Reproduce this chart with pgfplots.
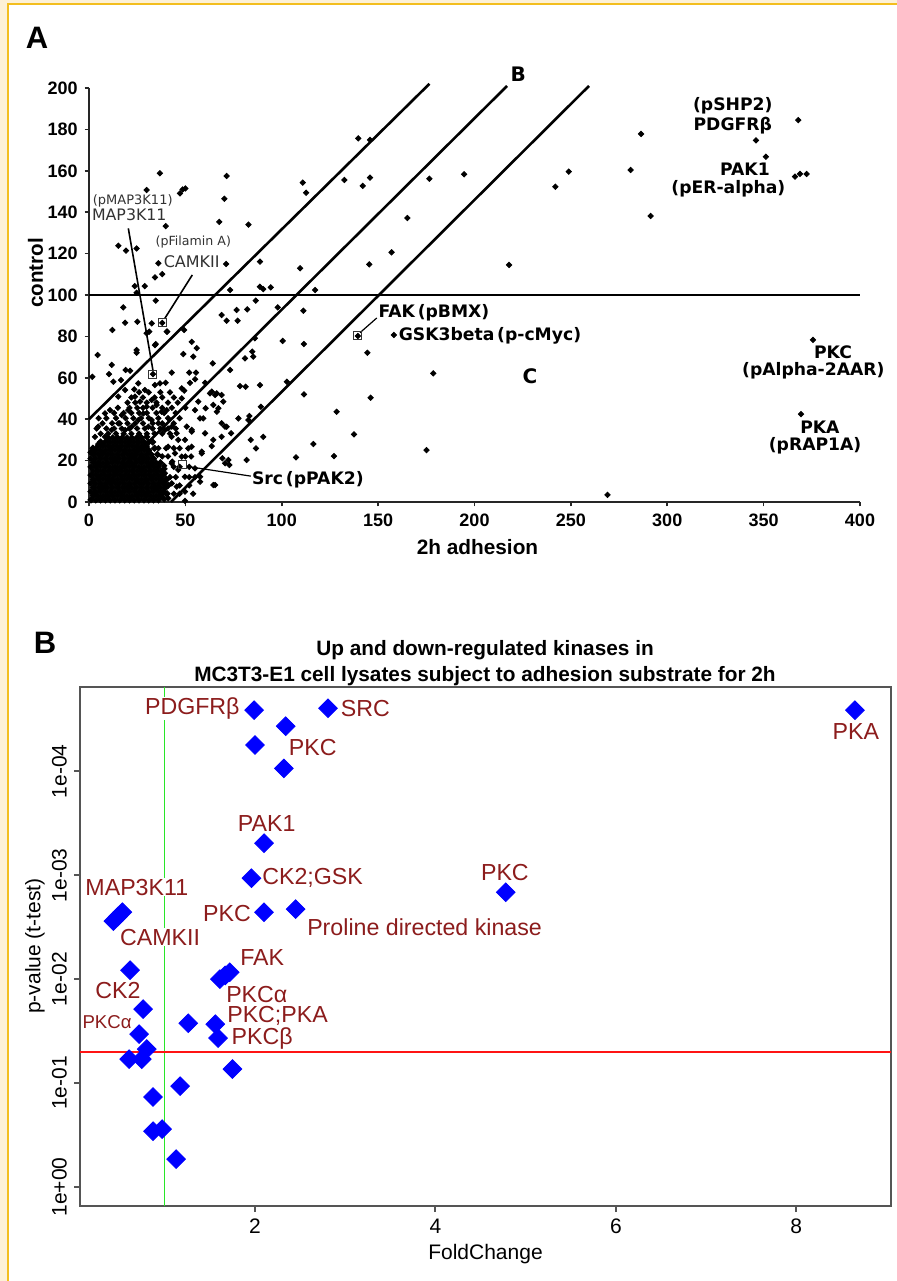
\documentclass[border=0pt]{standalone}
\usepackage{pgfplots}
\pgfplotsset{compat=1.18}
\usepackage{fontspec}
\setmainfont{Liberation Sans}
\newfontfamily\dejavu{DejaVu Sans}
\definecolor{cream}{RGB}{253,241,214}
\definecolor{gold}{RGB}{243,190,30}
\definecolor{lbl}{RGB}{140,28,28}
\definecolor{framegray}{RGB}{85,85,85}
\definecolor{lgreen}{RGB}{40,230,40}
\definecolor{lred}{RGB}{255,20,20}
\definecolor{annogray}{RGB}{50,50,50}

\begin{document}
\begin{tikzpicture}
\path[use as bounding box] (0,0) rectangle (448.5pt,-640.5pt);
\fill[cream] (0,0) rectangle (3.5pt,-640.5pt);
\fill[cream] (0,0) rectangle (448.5pt,-1.5pt);
\fill[gold] (3.5pt,-1.5pt) rectangle (4.6pt,-640.5pt);
\fill[gold] (3.5pt,-1.5pt) rectangle (448.5pt,-2.6pt);

\node[font=\bfseries\fontsize{15.5}{15.5}\selectfont] at (18.5pt,-18.8pt) {A};
\node[font=\bfseries\fontsize{15.5}{15.5}\selectfont] at (22.5pt,-321.5pt) {B};

% ---------------- panel A ----------------
\begin{axis}[
    at={(44.5pt,-251pt)}, anchor=south west,
    scale only axis, width=385.5pt, height=207pt,
    xmin=0, xmax=400, ymin=0, ymax=200,
    axis lines*=left,
    axis line style={line width=0.9pt, black!85},
    xtick={0,50,...,400}, ytick={0,20,...,200},
    tick align=outside, major tick length=2.2pt,
    every tick/.style={line width=0.8pt, black!85},
    /pgf/number format/assume math mode=true,
    ticklabel style={font=\bfseries\fontsize{9}{9}\selectfont},
    clip=false,
]
% dense cluster near the origin
\addplot[only marks, mark=square*, mark size=1.1pt, mark options={rotate=45, black}] coordinates {
(1,1)(3.5,1)(6,1)(8.5,1)(11,1)(13.5,1)(16,1)(18.5,1)(21,1)(23.5,1)(26,1)(28.5,1)(31,1)(33.5,1)(36,1)
(2.25,3)(4.75,3)(7.25,3)(9.75,3)(12.25,3)(14.75,3)(17.25,3)(19.75,3)(22.25,3)(24.75,3)(27.25,3)(29.75,3)(32.25,3)(34.75,3)(37.25,3)
(1,5)(3.5,5)(6,5)(8.5,5)(11,5)(13.5,5)(16,5)(18.5,5)(21,5)(23.5,5)(26,5)(28.5,5)(31,5)(33.5,5)(36,5)(38.5,5)
(2.25,7)(4.75,7)(7.25,7)(9.75,7)(12.25,7)(14.75,7)(17.25,7)(19.75,7)(22.25,7)(24.75,7)(27.25,7)(29.75,7)(32.25,7)(34.75,7)(37.25,7)(39.75,7)
(1,9)(3.5,9)(6,9)(8.5,9)(11,9)(13.5,9)(16,9)(18.5,9)(21,9)(23.5,9)(26,9)(28.5,9)(31,9)(33.5,9)(36,9)(38.5,9)
(2.25,11)(4.75,11)(7.25,11)(9.75,11)(12.25,11)(14.75,11)(17.25,11)(19.75,11)(22.25,11)(24.75,11)(27.25,11)(29.75,11)(32.25,11)(34.75,11)(37.25,11)
(1,13)(3.5,13)(6,13)(8.5,13)(11,13)(13.5,13)(16,13)(18.5,13)(21,13)(23.5,13)(26,13)(28.5,13)(31,13)(33.5,13)(36,13)
(2.25,15)(4.75,15)(7.25,15)(9.75,15)(12.25,15)(14.75,15)(17.25,15)(19.75,15)(22.25,15)(24.75,15)(27.25,15)(29.75,15)(32.25,15)(34.75,15)(37.25,15)
(1,17)(3.5,17)(6,17)(8.5,17)(11,17)(13.5,17)(16,17)(18.5,17)(21,17)(23.5,17)(26,17)(28.5,17)(31,17)(33.5,17)(36,17)
(2.25,19)(4.75,19)(7.25,19)(9.75,19)(12.25,19)(14.75,19)(17.25,19)(19.75,19)(22.25,19)(24.75,19)(27.25,19)(29.75,19)(32.25,19)(34.75,19)
(1,21)(3.5,21)(6,21)(8.5,21)(11,21)(13.5,21)(16,21)(18.5,21)(21,21)(23.5,21)(26,21)(28.5,21)(31,21)(33.5,21)
(2.25,23)(4.75,23)(7.25,23)(9.75,23)(12.25,23)(14.75,23)(17.25,23)(19.75,23)(22.25,23)(24.75,23)(27.25,23)(29.75,23)(32.25,23)
(3.5,25)(6,25)(8.5,25)(11,25)(13.5,25)(16,25)(18.5,25)(21,25)(23.5,25)(26,25)(28.5,25)(31,25)
(4.75,27)(7.25,27)(9.75,27)(12.25,27)(14.75,27)(17.25,27)(19.75,27)(22.25,27)(24.75,27)(27.25,27)(29.75,27)
(6,29)(8.5,29)(11,29)(13.5,29)(16,29)(18.5,29)(21,29)(23.5,29)(26,29)(28.5,29)(31,29)
(9.75,31)(12.25,31)(14.75,31)(17.25,31)(19.75,31)(22.25,31)(24.75,31)(27.25,31)
(38.5,13)(40,11)(39,16)(37,19)(35.5,23)(34,26)(33,29)(30,31.5)(5,28)(2,26)(1,24)(40.5,4)(41,8)(39,1.5)
};
% looser halo around the cluster
\addplot[only marks, mark=square*, mark size=0.95pt, mark options={rotate=45, black}] coordinates {
(6,33)(10,33)(14,33)(18,33)(22,33)(26,33)(30,33)(34,33)(38,33)(42,33)
(4,35.5)(9,35.5)(13,35.5)(17,35.5)(21,35.5)(25,35.5)(29,35.5)(33,35.5)(37,35.5)(41,35.5)(45,35.5)
(7,38)(12,38)(16,38)(20,38)(24,38)(28,38)(33,38)(38,38)(44,38)
(5,40.5)(9,40.5)(14,40.5)(19,40.5)(23,40.5)(27,40.5)(31,40.5)(36,40.5)(41,40.5)(47,40.5)
(13,43)(18,43)(22,43)(26,43)(30,43)(35,43)(39,43)(45,43)
(15,45.5)(21,45.5)(25,45.5)(28,45.5)(33,45.5)(38,45.5)(43,45.5)(50,45.5)
(20,48)(24,48)(30,48)(35,48)(41,48)(46,48)
(22,50.5)(28,50.5)(34,50.5)(38,50.5)(44,50.5)
(26,53)(31,53)(37,53)(42,53)
(36,26)(40,26)(44,26)(47,26)(38,22)(41,22)(50,22)(53,22)(39,17.5)(44,17)(47,17)(52,17)
(42,12)(45,12)(52,12)(55,12)(41,8)(47,8)(52,8)(40,4)(44,4)(47,4)(54,4)
};
% scattered kinases
\addplot[only marks, mark=square*, mark size=0.95pt, mark options={rotate=45, black}] coordinates {
(15.2,123.8)(19.2,121.4)(24.7,122.5)(29.9,150.7)(36.8,158.8)(47.2,149.1)(48.6,151)(50,151.5)
(39.8,133.3)(36,115.3)(38,110.1)(34.2,108.5)(23.7,104.3)(28.9,104.3)(67.6,135.3)(70.2,146.5)
(71.4,157.5)(71.1,115)(82.7,134)(88.7,116.1)(88.7,104)(90.4,102.8)(94.3,103.7)(73.2,102.4)
(110.9,154.3)(112.6,149.4)(109.5,112.9)(117.3,102.4)(139.7,175.7)(145.8,174.9)(132.5,155.6)
(142,152.7)(145.8,156.7)(157,120.6)(145.4,114.8)(165.2,137.2)(176.6,156.2)
(194.6,158.3)(241.9,152.3)(248.9,159.6)(217.9,114.5)(281,160.4)(286.4,177.8)(291.4,138.2)
(346,174.7)(351.2,166.8)(368,184.5)(366.3,157.2)(368.9,158.5)(372.3,158.5)
(24.7,101.1)(86.5,97.3)(17.8,94)(34.6,97.3)(68.8,90.3)(71.4,87.6)(76.6,92.8)(77.1,87.6)
(82.1,93.1)(97.9,94)(111.2,92.4)(18.7,86.6)(25.1,87.1)(12.1,83.1)(31.3,82.3)(40.6,82.3)(49.3,83.1)
(4.5,71)(24.7,72.1)(34.6,76.3)(48.9,71.5)(53.3,77.4)(54.1,70.2)(64.2,67)(1.7,60.5)(11.8,66.2)
(10.4,61.8)(12.6,58.1)(19,63.8)(21.3,63.4)(16.6,58.9)(25.6,57.3)(23.5,54.4)(29,54.1)(34.2,56.5)
(36.8,57.3)(39.8,57.6)(42.9,62.5)(52,62.5)(55.5,62.5)(48.1,54.9)(49.4,53.8)(52.4,57.6)(55,59.3)
(60.2,57.6)(62.8,52.5)(66.3,52.5)(68.8,51.7)(48.1,50.1)(56.7,48.5)(64.5,46.9)(67.1,45.3)
(73.2,63.8)(55,44.4)(59.3,40.4)(57.6,40.4)(68.8,38)(70.6,36.4)(60.2,33.2)(68.8,31.5)(50.7,36.4)
(53.3,34.8)(45.5,33.2)(49.8,30)(51.5,25.9)(53.3,26.7)(58.5,24.3)(69.2,21.1)(70.6,18.7)(43.2,19.5)
(55,16.3)(57.6,12.2)(64.5,8.2)(45.5,7.4)(49.8,5)(40.3,10.6)(36,7.4)
(55.9,74.3)(84.7,72.6)(85.2,70.2)(80.9,69.4)(86.1,79.1)(100.5,77.8)(111.5,76.3)(102.6,58.1)
(111.5,52)(88.7,56.5)(78.3,56)(81.3,55.7)(63.7,53.3)(65.4,51.7)(69.7,48.5)(60.5,45.3)(53.3,34)
(66.3,43.6)(71.4,36.4)(73.7,33.2)(77.5,40.4)(82.7,39.6)(83.2,41.5)(89.2,46)(90.4,31.5)(83.9,30)
(86.6,25.9)(81.8,20.3)(72.3,20.3)(72.8,17.9)(63.7,27)(64.5,30)(58.5,23.5)
(144.4,72.1)(178.6,62.2)(146.1,50.4)(128.5,43.6)(137.5,32.7)(116.4,28)(107.4,21.6)(127.1,22.2)
(175.1,25.1)(158.2,80.7)(57.6,9.8)(65.4,8.2)(49.8,0.5)(269,3.4)(375.6,78.3)(369.4,42.5)
(23.9,50.9)(26.5,48.5)(29.9,46)(32.5,49.3)(35.1,46.9)(37.7,43.6)(40.3,44.4)(28.2,42.8)(25.6,39.6)
(32.5,39.6)(36,38)(39.4,34.8)(42.9,36.4)(22.2,36.4)(18.7,34.8)(15.2,38)(11.8,34.8)(8.3,31.5)
(42.9,31.5)(46.3,30)(41.1,26.7)(44.6,23.5)(48.1,21.9)(8.3,42.8)(4.8,36.4)(15.2,50.9)(18.7,54.1)
(10.9,44.4)(3.1,31.5)(20.4,44.4)(17,42)(30.8,36.4)(42.9,18.7)(46.3,15.5)(39.4,13.9)(49.8,12.2)
(42.9,9)(37.7,4.2)(41.1,1.8)(32.5,86.3)(29.9,81.5)(34.2,75.8)(24.7,73.4)(40.3,82.3)
(38,86.5)(33.2,61.8)(139.5,80.2)
};
% highlighted kinases (open squares)
\addplot[only marks, mark=square, mark size=2pt, mark options={black!80, line width=0.5pt}] coordinates {
(38,86.5)(33.2,61.8)(139.5,80.2)(48.6,17.9)
};
% reference lines
\draw[line width=1.3pt] (axis cs:0,100) -- (axis cs:400,100);
\draw[line width=1.3pt] (axis cs:0,40) -- (axis cs:176.6,202);
\draw[line width=1.3pt] (axis cs:0,0.5) -- (axis cs:216.9,201);
\draw[line width=1.3pt] (axis cs:42.5,0) -- (axis cs:259.4,201);
% leader lines
\draw[line width=0.8pt] (axis cs:20.4,132.2) -- (axis cs:33.2,63.5);
\draw[line width=0.8pt] (axis cs:53.6,109.7) -- (axis cs:39.2,88.5);
\draw[line width=0.6pt] (axis cs:140.6,81.8) -- (axis cs:149.3,88.9);
\draw[line width=0.6pt] (axis cs:50.8,17.2) -- (axis cs:84,12.5);
% annotations
\begin{scope}[every node/.style={font=\dejavu\bfseries\fontsize{8.6}{8.6}\selectfont, inner sep=0pt}]
\node at (axis cs:334,191.3) {(pSHP2)};
\node at (axis cs:334,181.6) {PDGFRβ};
\node at (axis cs:340.3,160.7) {PAK1};
\node at (axis cs:331.7,151.2) {(pER-alpha)};
\node[anchor=west] at (axis cs:150,91.3) {FAK\,(pBMX)};
\node[anchor=west] at (axis cs:160.5,80.2) {GSK3beta\,(p-cMyc)};
\node at (axis cs:386,72.5) {PKC};
\node at (axis cs:375.8,63.4) {(pAlpha-2AAR)};
\node at (axis cs:379.2,35.9) {PKA};
\node at (axis cs:376.7,27.2) {(pRAP1A)};
\node[anchor=west] at (axis cs:84.4,10.6) {Src\,(pPAK2)};
\node[font=\dejavu\bfseries\fontsize{10}{10}\selectfont] at (axis cs:222.7,206.8) {B};
\node[font=\dejavu\bfseries\fontsize{10}{10}\selectfont] at (axis cs:228.8,61) {C};
\end{scope}
\begin{scope}[every node/.style={text=annogray, inner sep=0pt}]
\node[font=\dejavu\fontsize{6.5}{6.5}\selectfont] at (axis cs:22.7,145.6) {(pMAP3K11)};
\node[font=\dejavu\fontsize{7.9}{7.9}\selectfont] at (axis cs:20.9,138.6) {MAP3K11};
\node[font=\dejavu\fontsize{6.3}{6.3}\selectfont] at (axis cs:54.1,125.8) {(pFilamin A)};
\node[font=\dejavu\fontsize{8}{8}\selectfont] at (axis cs:53.3,116.1) {CAMKII};
\end{scope}
\end{axis}
\node[rotate=90, font=\bfseries\fontsize{10.3}{10.3}\selectfont] at (17.75pt,-136.5pt) {control};
\node[font=\bfseries\fontsize{10.4}{10.4}\selectfont] at (238.75pt,-273.5pt) {2h adhesion};

% ---------------- panel B ----------------
\begin{axis}[
    at={(40pt,-603pt)}, anchor=south west,
    scale only axis, width=405.5pt, height=259.5pt,
    xmin=0.06, xmax=9.05,
    ymode=log, ymin=1.55e-5, ymax=1.52, y dir=reverse,
    axis line style={framegray, line width=1.3pt},
    xtick={2,4,6,8},
    ytick={0.0001,0.001,0.01,0.1,1},
    yticklabels={1e-04,1e-03,1e-02,1e-01,1e+00},
    yminorticks=false,
    xtick pos=left, xticklabel pos=left, ytick pos=left,
    tick align=outside, major tick length=3pt,
    every tick/.style={framegray, line width=1pt},
    /pgf/number format/assume math mode=true,
    ticklabel style={font=\fontsize{10.5}{10.5}\selectfont},
    xticklabel style={anchor=north},
    yticklabel style={rotate=90, anchor=south},
    clip=false,
]
\draw[lgreen, line width=0.6pt] (axis cs:1,1.55e-5) -- (axis cs:1,1.52);
\draw[draw=lred, line width=0.7pt] (axis cs:0.06,0.05) -- (axis cs:9.05,0.05);
\begin{scope}[every node/.style={text=lbl, fill=white, inner sep=0.3pt, font=\fontsize{11.6}{11.6}\selectfont}]
\node[anchor=east] at (axis cs:1.84,2.5e-5) {PDGFRβ};
\node[anchor=west] at (axis cs:2.94,2.5e-5) {SRC};
\node at (axis cs:2.64,5.9e-5) {PKC};
\node at (axis cs:8.66,4.12e-5) {PKA};
\node at (axis cs:2.13,3.16e-4) {PAK1};
\node[anchor=west] at (axis cs:2.07,1.07e-3) {CK2;GSK};
\node at (axis cs:1.69,2.32e-3) {PKC};
\node at (axis cs:3.88,3.16e-3) {Proline directed kinase};
\node at (axis cs:4.77,9.35e-4) {PKC};
\node at (axis cs:0.69,1.30e-3) {MAP3K11};
\node at (axis cs:0.947,3.94e-3) {CAMKII};
\node at (axis cs:2.08,6.14e-3) {FAK};
\node at (axis cs:0.48,0.01276) {CK2};
\node[font=\fontsize{9.3}{9.3}\selectfont] at (axis cs:0.36,0.0259) {PKCα};
\node at (axis cs:2.02,0.0139) {PKCα};
\node at (axis cs:2.25,0.0227) {PKC;PKA};
\node at (axis cs:2.08,0.0370) {PKCβ};
\end{scope}
\addplot[only marks, mark=square*, mark size=3.3pt, mark options={rotate=45, blue}] coordinates {
(1.99,2.59e-5)(2.81,2.48e-5)(2.34,3.69e-5)(2.0,5.6e-5)(2.32,9.4e-5)
(2.10,4.92e-4)(1.96,1.07e-3)(2.10,2.27e-3)(2.45,2.12e-3)(8.65,2.59e-5)(4.78,1.46e-3)
(0.53,2.27e-3)(0.48,2.5e-3)(0.43,2.77e-3)(0.615,8.2e-3)(1.72,8.6e-3)(1.67,9.2e-3)(1.61,0.0100)
(0.76,0.0194)(1.26,0.0265)(1.56,0.0271)(0.715,0.0338)(1.59,0.0369)(0.80,0.0471)
(0.605,0.0588)(0.745,0.0588)(1.75,0.0733)(1.17,0.107)(0.87,0.136)(0.87,0.29)(0.97,0.277)(1.125,0.538)
};
\end{axis}
\node[anchor=base, font=\bfseries\fontsize{10.4}{13}\selectfont] at (242.5pt,-327.75pt) {Up and down-regulated kinases in};
\node[anchor=base, font=\bfseries\fontsize{10.4}{13}\selectfont] at (242.5pt,-340.75pt) {MC3T3-E1 cell lysates subject to adhesion substrate for 2h};
\node[anchor=base, font=\fontsize{10.5}{10.5}\selectfont] at (242.75pt,-629.75pt) {FoldChange};
\node[rotate=90, font=\fontsize{10.5}{10.5}\selectfont] at (17.5pt,-473pt) {p-value (t-test)};
\end{tikzpicture}
\end{document}
